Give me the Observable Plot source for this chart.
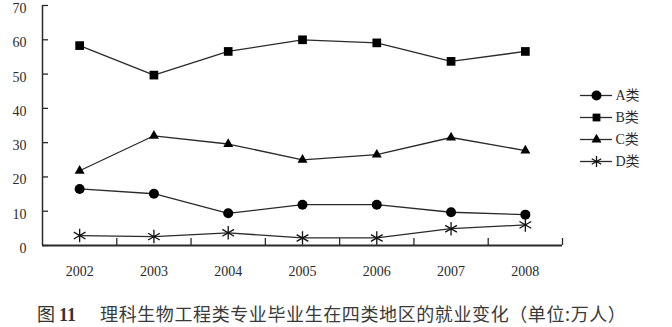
<!DOCTYPE html>
<html>
<head>
<meta charset="utf-8">
<script src="https://cdn.jsdelivr.net/npm/d3@7"></script>
<script src="https://cdn.jsdelivr.net/npm/@observablehq/plot@0.6"></script>
<style>
  body { margin: 0; background: #fff; }
  #wrap { position: relative; width: 672px; height: 327px; overflow: hidden; }
  #legend { position: absolute; left: 572px; top: 80px; }
  #caption { position: absolute; left: 37px; top: 301px; font-family: "Noto Sans CJK SC", sans-serif; font-size: 18px; color: #333; white-space: nowrap; line-height: 24px; }
  #caption b { font-family: "Liberation Serif", "Times New Roman", serif; font-weight: bold; }
  #caption span { letter-spacing: 0.6px; color: #3a3a3a; }
  svg text { font-family: "Liberation Serif", "Times New Roman", "Noto Sans CJK SC", serif; }
</style>
</head>
<body>
<div id="wrap">
  <div id="chart"></div>
  <div id="legend"></div>
  <div id="caption"></div>
</div>
<script>
const years = [2002, 2003, 2004, 2005, 2006, 2007, 2008];
const seriesNames = ["A", "B", "C", "D"];
const seriesA = [16.5, 15.1, 9.4, 11.9, 11.9, 9.7, 9.0];
const seriesB = [58.3, 49.7, 56.6, 60.0, 59.1, 53.7, 56.6];
const seriesC = [21.8, 32.0, 29.6, 25.0, 26.5, 31.5, 27.7];
const seriesD = [2.9, 2.6, 3.7, 2.2, 2.2, 4.9, 6.0];
const yTicks = [0, 10, 20, 30, 40, 50, 60, 70];
const symbols = ["circle", "square", "triangle", "asterisk"];
const symbolSizes = [5, 4.9, 3.7, 6.4];
const legendSizes = [5, 4.4, 3.7, 5.2];
const captionFig = "图";
const captionNum = "11";
const captionText = "理科生物工程类专业毕业生在四类地区的就业变化（单位:万人）";

const valuesBySeries = {A: seriesA, B: seriesB, C: seriesC, D: seriesD};
const data = seriesNames.flatMap(s => years.map((yr, i) => ({series: s, year: yr, value: valuesBySeries[s][i]})));
const boundaries = years.map(y => y + 0.5);
const xDomain = [years[0] - 0.5, years[years.length - 1] + 0.5];
const symbolScale = {domain: seriesNames, range: symbols};
const ink = "#2a2a2a";
const serif = "'Liberation Serif', 'Times New Roman', 'Noto Sans CJK SC', serif";
const svgStyle = `font-family: ${serif}; font-size: 14px; color: ${ink}; background: transparent; overflow: visible;`;

const dotMarks = (rows, sizes, xOpt) => seriesNames.map((s, i) => {
  const sub = rows.filter(d => d.series === s);
  const filled = symbols[i] !== "asterisk";
  return Plot.dot(sub, {
    ...xOpt,
    symbol: "series",
    r: sizes[i],
    fill: filled ? "#000" : "none",
    stroke: filled ? "none" : "#111",
    strokeWidth: 1.3
  });
});

const chart = Plot.plot({
  width: 672,
  height: 292,
  marginLeft: 42,
  marginRight: 110,
  marginTop: 5,
  marginBottom: 47,
  style: svgStyle,
  x: {domain: xDomain},
  y: {domain: [0, 70]},
  symbol: symbolScale,
  marks: [
    Plot.axisY({ticks: yTicks, tickSize: 0, tickPadding: 16, dy: 3, tickFormat: d => d, fontSize: 14, fontFamily: serif, label: null}),
    Plot.axisY({ticks: yTicks, tickSize: -6, tickFormat: () => "", label: null, stroke: ink, strokeWidth: 1.3}),
    Plot.axisX({ticks: years, tickSize: 0, tickPadding: 21, tickFormat: d => String(d), fontSize: 14, fontFamily: serif, label: null}),
    Plot.axisX({ticks: boundaries, tickSize: -7, tickFormat: () => "", label: null, stroke: ink, strokeWidth: 1.3}),
    Plot.ruleX([xDomain[0]], {y1: 0, y2: 70, stroke: ink, strokeWidth: 1.5}),
    Plot.ruleY([0], {stroke: ink, strokeWidth: 2}),
    Plot.line(data, {x: "year", y: "value", z: "series", stroke: ink, strokeWidth: 1.3}),
    ...dotMarks(data, symbolSizes, {x: "year", y: "value"})
  ]
});
document.getElementById("chart").appendChild(chart);

const legendData = seriesNames.map(s => ({series: s}));
const legend = Plot.plot({
  width: 100,
  height: 100,
  marginLeft: 8,
  marginRight: 60,
  marginTop: 14,
  marginBottom: 19,
  style: svgStyle,
  x: {domain: [0, 1], axis: null},
  y: {type: "point", domain: seriesNames, padding: 0, axis: null},
  symbol: symbolScale,
  marks: [
    Plot.ruleY(legendData, {y: "series", x1: 0, x2: 1, stroke: ink, strokeWidth: 1.3}),
    ...dotMarks(legendData, legendSizes, {x: 0.5, y: "series"}),
    Plot.text(legendData, {x: 1, y: "series", text: d => d.series + "类", textAnchor: "start", dx: 3, fill: ink, fontSize: 14, fontFamily: serif})
  ]
});
document.getElementById("legend").appendChild(legend);

const cap = document.getElementById("caption");
cap.innerHTML = "";
cap.append(captionFig + " ");
const b = document.createElement("b");
b.textContent = captionNum;
cap.append(b);
const sp = document.createElement("span");
sp.style.marginLeft = "24px";
sp.textContent = captionText;
cap.append(sp);
</script>
</body>
</html>
